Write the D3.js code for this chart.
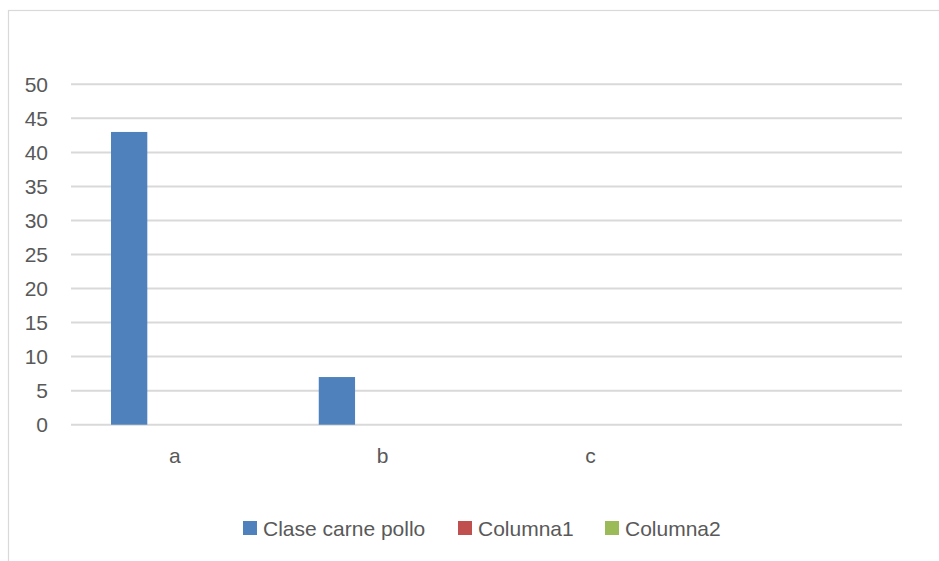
<!DOCTYPE html>
<html>
<head>
<meta charset="utf-8">
<script src="https://cdn.jsdelivr.net/npm/d3@7"></script>
<style>
  body { margin: 0; background: #fff; }
  text { font-family: "Liberation Sans", Arial, sans-serif; fill: #595959; }
</style>
</head>
<body>
<div id="chart"></div>
<script>
// ---- DATA -----------------------------------------------------------
var categories = ["a", "b", "c", ""];
var seriesNames = ["Clase carne pollo", "Columna1", "Columna2"];
var claseCarnePollo = [43, 7, null, null];
var columna1 = [null, null, null, null];
var columna2 = [null, null, null, null];
var yTicks = [0, 5, 10, 15, 20, 25, 30, 35, 40, 45, 50];
var colors = ["#4F81BD", "#C0504D", "#9BBB59"];

// ---- VARIABLES ------------------------------------------------------
var w = 939;
var h = 561;
var plotLeft = 71, plotRight = 902, plotTop = 84.3, plotBottom = 424.7;

var allSeries = [claseCarnePollo, columna1, columna2];

// ---- SCALES ---------------------------------------------------------
var xScale = d3.scaleBand()
  .domain(categories.map(function(d, i) { return i; }))
  .range([plotLeft, plotRight]);

var xInner = d3.scaleBand()
  .domain(d3.range(seriesNames.length))
  .range([0, xScale.bandwidth()])
  .paddingInner(0.206)
  .paddingOuter(0.875);

var yScale = d3.scaleLinear()
  .domain([0, 50])
  .range([plotBottom, plotTop]);

// ---- BUILD ----------------------------------------------------------
var svg = d3.select("#chart")
  .append("svg")
  .attr("width", w)
  .attr("height", h);

// chart border (only left/top visible in the frame)
svg.append("rect")
  .attr("x", 8.5)
  .attr("y", 10.5)
  .attr("width", 960)
  .attr("height", 600)
  .attr("fill", "none")
  .attr("stroke", "#D9D9D9")
  .attr("stroke-width", 1.2);

// gridlines
svg.append("g")
  .selectAll("line")
  .data(yTicks)
  .enter()
  .append("line")
  .attr("x1", plotLeft)
  .attr("x2", plotRight)
  .attr("y1", function(d) { return yScale(d); })
  .attr("y2", function(d) { return yScale(d); })
  .attr("stroke", "#D9D9D9")
  .attr("stroke-width", 2);

// y axis labels
var yAxis = d3.axisLeft(yScale).tickValues(yTicks).tickSize(0).tickPadding(23);
var yG = svg.append("g")
  .attr("transform", "translate(" + plotLeft + ",0)")
  .call(yAxis);
yG.select(".domain").remove();
yG.selectAll("text")
  .attr("font-size", "21px")
  .style("font-family", "'Liberation Sans', Arial, sans-serif")
  .attr("fill", "#595959");

// x axis labels
var xAxis = d3.axisBottom(xScale).tickFormat(function(i) { return categories[i]; }).tickSize(0).tickPadding(23);
var xG = svg.append("g")
  .attr("transform", "translate(0," + plotBottom + ")")
  .call(xAxis);
xG.select(".domain").remove();
xG.selectAll("text")
  .attr("font-size", "21px")
  .style("font-family", "'Liberation Sans', Arial, sans-serif")
  .attr("fill", "#595959");

// bars
allSeries.forEach(function(values, s) {
  svg.append("g")
    .selectAll("rect")
    .data(values.map(function(v, i) { return { i: i, v: v }; }).filter(function(d) { return d.v != null; }))
    .enter()
    .append("rect")
    .attr("x", function(d) { return xScale(d.i) + xInner(s); })
    .attr("width", xInner.bandwidth())
    .attr("y", function(d) { return yScale(d.v); })
    .attr("height", function(d) { return yScale(0) - yScale(d.v); })
    .attr("fill", colors[s]);
});

// legend
var legendX = [243, 458, 605];
var legend = svg.append("g");
seriesNames.forEach(function(name, s) {
  legend.append("rect")
    .attr("x", legendX[s])
    .attr("y", 521)
    .attr("width", 14)
    .attr("height", 14)
    .attr("fill", colors[s]);
  legend.append("text")
    .attr("x", legendX[s] + 20)
    .attr("y", 535.5)
    .attr("font-size", "21px")
    .text(name);
});
</script>
</body>
</html>
